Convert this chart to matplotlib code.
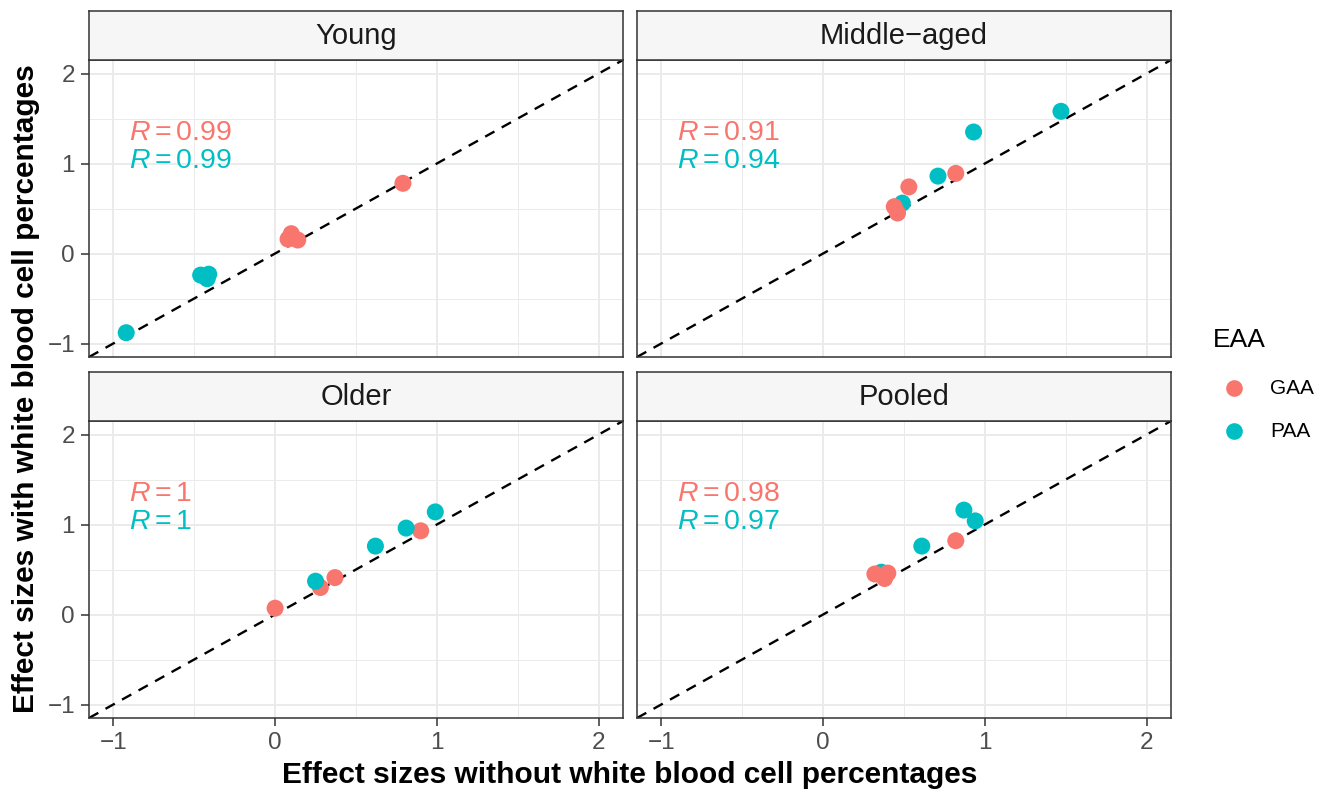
import numpy as np
import matplotlib
matplotlib.use('Agg')
import matplotlib.pyplot as plt
from matplotlib.lines import Line2D

plt.rcParams['font.family'] = ['Liberation Sans', 'DejaVu Sans']
plt.rcParams['mathtext.fontset'] = 'custom'
plt.rcParams['mathtext.rm'] = 'Liberation Sans'
plt.rcParams['mathtext.it'] = 'Liberation Sans:italic'

# dados
panels = ['Young', 'Middle\u2212aged', 'Older', 'Pooled']

young_gaa_x = [0.08, 0.10, 0.14, 0.79]
young_gaa_y = [0.16, 0.22, 0.15, 0.78]
young_paa_x = [-0.92, -0.46, -0.41, -0.42]
young_paa_y = [-0.88, -0.24, -0.23, -0.28]

mid_gaa_x = [0.44, 0.46, 0.53, 0.82]
mid_gaa_y = [0.52, 0.45, 0.74, 0.89]
mid_paa_x = [0.49, 0.71, 0.93, 1.47]
mid_paa_y = [0.56, 0.86, 1.35, 1.58]

old_gaa_x = [0.00, 0.28, 0.37, 0.90]
old_gaa_y = [0.07, 0.30, 0.41, 0.93]
old_paa_x = [0.25, 0.62, 0.81, 0.99]
old_paa_y = [0.37, 0.76, 0.96, 1.14]

pool_gaa_x = [0.32, 0.38, 0.40, 0.82]
pool_gaa_y = [0.45, 0.40, 0.46, 0.82]
pool_paa_x = [0.36, 0.61, 0.87, 0.94]
pool_paa_y = [0.47, 0.76, 1.16, 1.04]

gaa_r = ['0.99', '0.91', '1', '0.98']
paa_r = ['0.99', '0.94', '1', '0.97']

ticks = [-1, 0, 1, 2]
tick_labels = ['\u22121', '0', '1', '2']

gaa_data = [(young_gaa_x, young_gaa_y), (mid_gaa_x, mid_gaa_y),
            (old_gaa_x, old_gaa_y), (pool_gaa_x, pool_gaa_y)]
paa_data = [(young_paa_x, young_paa_y), (mid_paa_x, mid_paa_y),
            (old_paa_x, old_paa_y), (pool_paa_x, pool_paa_y)]
paa_on_top = [False, False, True, False]

RED = '#F8766D'
TEAL = '#00BFC4'
W, H = 1328, 791

fig = plt.figure(figsize=(W / 100, H / 100), dpi=100)

cols = [89, 637]
rows = [(11, 60, 357), (372, 421, 718)]  # topo da faixa, topo do painel, base do painel
pw = 534

for i, name in enumerate(panels):
    r, c = divmod(i, 2)
    st, pt, pb = rows[r]
    x0 = cols[c]
    ax = fig.add_axes([x0 / W, 1 - pb / H, pw / W, (pb - pt) / H])
    sax = fig.add_axes([x0 / W, 1 - pt / H, pw / W, (pt - st) / H])

    # faixa do titulo
    sax.set_facecolor('#F6F6F6')
    sax.set_xticks([])
    sax.set_yticks([])
    for s in sax.spines.values():
        s.set_color('#333333')
        s.set_linewidth(1.1)
    sax.text(0.5, 0.48, name, ha='center', va='center', fontsize=21, color='#1A1A1A',
             transform=sax.transAxes)

    ax.set_xlim(-1.15, 2.15)
    ax.set_ylim(-1.15, 2.15)
    ax.set_xticks(ticks)
    ax.set_yticks(ticks)
    ax.set_xticks([-0.5, 0.5, 1.5], minor=True)
    ax.set_yticks([-0.5, 0.5, 1.5], minor=True)
    ax.grid(which='major', color='#EBEBEB', lw=1.4, zorder=0)
    ax.grid(which='minor', color='#EBEBEB', lw=0.7, zorder=0)
    ax.set_axisbelow(True)
    ax.tick_params(which='minor', length=0)
    ax.tick_params(which='major', length=5.5, width=1.1, color='#333333',
                   labelsize=17.5, labelcolor='#4D4D4D', pad=4.5)
    if r == 1:
        ax.set_xticklabels(tick_labels)
    else:
        ax.tick_params(axis='x', length=0, labelbottom=False)
    if c == 0:
        ax.set_yticklabels(tick_labels)
    else:
        ax.tick_params(axis='y', length=0, labelleft=False)
    for s in ax.spines.values():
        s.set_color('#333333')
        s.set_linewidth(1.1)

    ax.axline((0, 0), slope=1, color='black', lw=1.7, ls=(0, (4.5, 3.5)), zorder=2)

    gx, gy = gaa_data[i]
    px, py = paa_data[i]
    zg, zp = (3, 4) if paa_on_top[i] else (4, 3)
    ax.scatter(gx, gy, s=150, color=RED, edgecolors='none', zorder=zg)
    ax.scatter(px, py, s=150, color=TEAL, edgecolors='none', zorder=zp)

    ax.text(-0.905, 1.26, r'$R = $' + gaa_r[i], color=RED, fontsize=20.5, va='baseline')
    ax.text(-0.905, 0.95, r'$R = $' + paa_r[i], color=TEAL, fontsize=20.5, va='baseline')

fig.text(630 / W, 1 - 783 / H, 'Effect sizes without white blood cell percentages',
         ha='center', va='baseline', fontsize=21.5, fontweight='bold')
fig.text(26 / W, 1 - 389 / H, 'Effect sizes with white blood cell percentages',
         ha='center', va='center', rotation=90, fontsize=21.5, fontweight='bold')

# legenda
fig.text(1213 / W, 1 - 340 / H, 'EAA', ha='left', va='center', fontsize=19)
for yy, lab, col in [(388, 'GAA', RED), (431, 'PAA', TEAL)]:
    fig.add_artist(Line2D([1234 / W], [1 - yy / H], transform=fig.transFigure,
                          marker='o', markersize=12, color=col, markeredgewidth=0, ls='none'))
    fig.text(1270 / W, 1 - yy / H, lab, ha='left', va='center', fontsize=15)

fig.savefig('out.png', dpi=100)
